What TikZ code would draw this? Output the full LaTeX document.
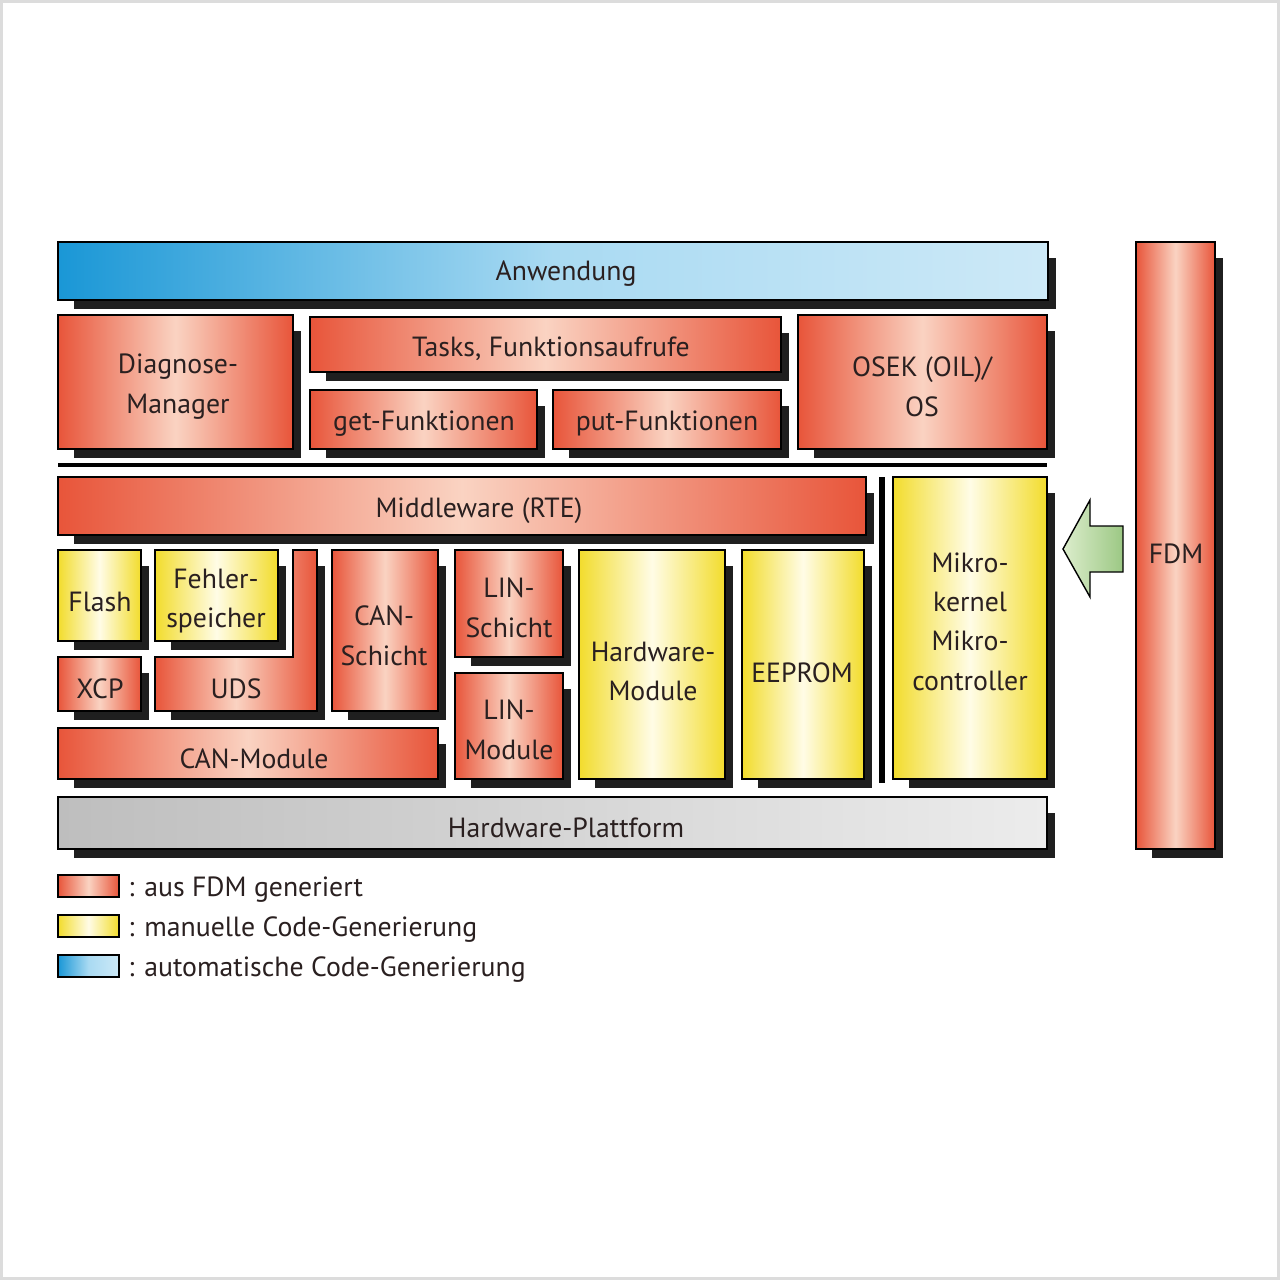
\documentclass[tikz,border=0pt]{standalone}
\usepackage{fontspec}
\setmainfont{PT Sans}
\definecolor{redE}{HTML}{E8553A}
\definecolor{redM}{HTML}{FAD3C2}
\definecolor{yelE}{HTML}{F2DC2C}
\definecolor{yelM}{HTML}{FFFCE6}
\definecolor{bluL}{HTML}{1A97D6}
\definecolor{bluM}{HTML}{A9DAF2}
\definecolor{bluR}{HTML}{CDE9F7}
\definecolor{grL}{HTML}{BEBEBE}
\definecolor{grR}{HTML}{ECECEC}
\definecolor{grnL}{HTML}{DCEDCC}
\definecolor{grnR}{HTML}{9CC884}
\definecolor{txt}{HTML}{2A2020}
\definecolor{frame}{HTML}{DCDCDC}
\tikzset{
  redbox/.style={draw=black, line width=0.8pt, left color=redE, right color=redE, middle color=redM},
  yelbox/.style={draw=black, line width=0.8pt, left color=yelE, right color=yelE, middle color=yelM},
  blubox/.style={draw=black, line width=0.8pt, left color=bluL, right color=bluR, middle color=bluM},
  grybox/.style={draw=black, line width=0.8pt, left color=grL, right color=grR},
  shad/.style={fill=black!88},
  lbl/.style={text=txt, font=\fontsize{15.8}{22.3}\selectfont, align=center, inner sep=0pt, yshift=-0.4pt},
  leg/.style={text=txt, font=\fontsize{15.8}{22.3}\selectfont, anchor=west, inner sep=0pt, yshift=-1pt},
  arrowfill/.style={draw=black, line width=0.8pt, left color=grnL, right color=grnR, line join=miter}
}
\newcommand\bx[5]{%
  \fill[shad] (#1+16,#2+16) rectangle (#3+8,#4+9);
  \path[#5] (#1,#2) rectangle (#3,#4);
}
\begin{document}
\begin{tikzpicture}[x=0.02cm, y=-0.02cm]
\useasboundingbox (0,0) rectangle (1280,1280);
\fill[white] (0,0) rectangle (1280,1280);
\draw[frame, line width=1.7pt] (1.5,1.5) rectangle (1278.5,1278.5);

% top layer
\bx{58}{242}{1048}{300}{blubox}
\bx{58}{315}{293}{449}{redbox}
\bx{310}{317}{781}{372}{redbox}
\bx{310}{390}{537}{449}{redbox}
\bx{553}{390}{781}{449}{redbox}
\bx{798}{315}{1047}{449}{redbox}
\fill[black] (58,463) rectangle (1047,467);

% middle layer
\bx{58}{477}{866}{535}{redbox}
\fill[black] (879,477) rectangle (885,783);
\bx{893}{477}{1047}{779}{yelbox}

\bx{58}{550}{141}{641}{yelbox}
\bx{155}{550}{278}{641}{yelbox}
% UDS L-shape
\fill[shad] (301,566) rectangle (325,720);
\fill[shad] (171,673) rectangle (325,720);
\path[redbox] (155,657) -- (293,657) -- (293,550) -- (317,550) -- (317,711) -- (155,711) -- cycle;
\bx{58}{657}{141}{711}{redbox}
\bx{332}{550}{438}{711}{redbox}
\bx{455}{550}{563}{657}{redbox}
\bx{455}{673}{563}{779}{redbox}
\bx{579}{550}{725}{779}{yelbox}
\bx{742}{550}{864}{779}{yelbox}
\bx{58}{728}{438}{779}{redbox}

% bottom
\bx{58}{797}{1047}{849}{grybox}
\bx{1136}{242}{1215}{849}{redbox}

% arrow
\path[arrowfill] (1063,549) -- (1090,500) -- (1090,526) -- (1123,526) -- (1123,572) -- (1090,572) -- (1090,597) -- cycle;

% labels
\node[lbl] (anw) at (566,273) {Anwendung};
\node[lbl] (diag) at (178,386) {Diagnose-\\Manager};
\node[lbl] (tasks) at (551,348) {Tasks, Funktionsaufrufe};
\node[lbl] (get) at (424,423) {get-Funktionen};
\node[lbl] (put) at (667,423) {put-Funktionen};
\node[lbl] (osek) at (922,386) {OSEK (OIL)/\\OS};
\node[lbl] (mw) at (479,510) {Middleware (RTE)};
\node[lbl] (flash) at (100,601) {Flash};
\node[lbl] (fehler) at (216,600) {Fehler-\\speicher};
\node[lbl] (xcp) at (100,688) {XCP};
\node[lbl] (uds) at (236,688) {UDS};
\node[lbl] (cans) at (384,635) {CAN-\\Schicht};
\node[lbl] (lins) at (509,607) {LIN-\\Schicht};
\node[lbl] (linm) at (509,729) {LIN-\\Module};
\node[lbl] (hwm) at (653,671) {Hardware-\\Module};
\node[lbl] (eep) at (802,672) {EEPROM};
\node[lbl] (mik) at (970,621) {Mikro-\\kernel\\Mikro-\\controller};
\node[lbl] (canm) at (254,758) {CAN-Module};
\node[lbl] (hwp) at (566,827) {Hardware-Plattform};
\node[lbl] (fdm) at (1176,553) {FDM};

% legend
\path[redbox] (58,875) rectangle (119,897);
\path[yelbox] (58,915) rectangle (119,937);
\path[blubox] (58,955) rectangle (119,977);
\node[leg] (l1) at (128,888) {: aus FDM generiert};
\node[leg] (l2) at (128,928) {: manuelle Code-Generierung};
\node[leg] (l3) at (128,968) {: automatische Code-Generierung};
\end{tikzpicture}
\end{document}
